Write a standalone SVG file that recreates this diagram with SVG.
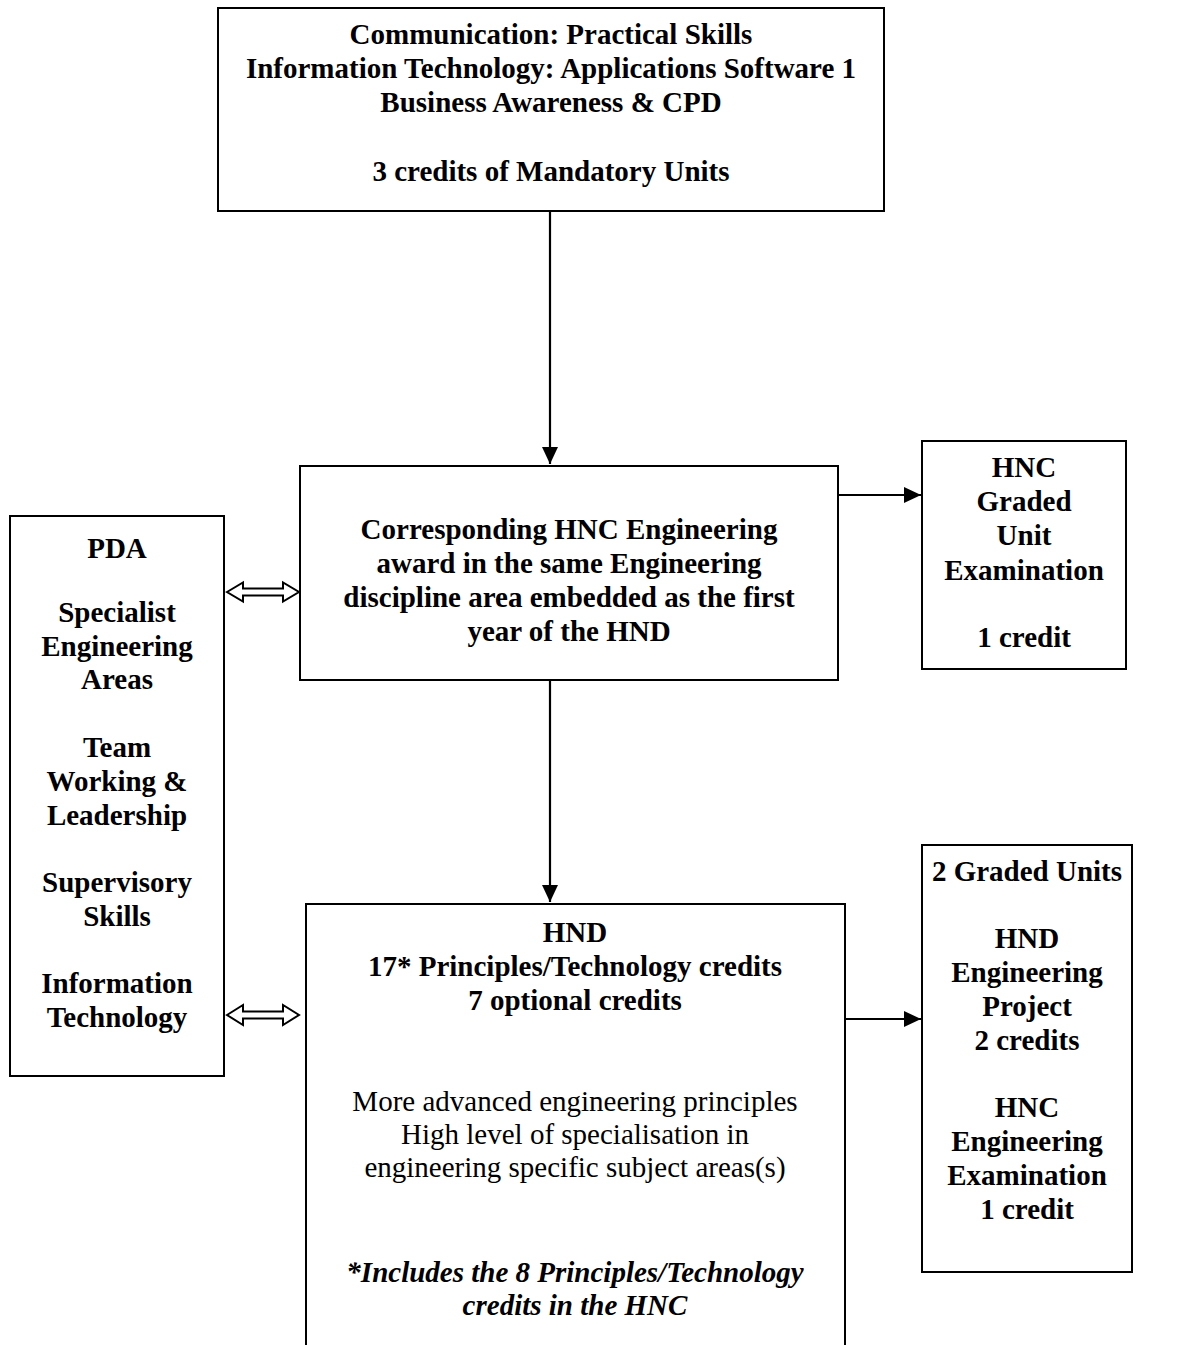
<svg xmlns="http://www.w3.org/2000/svg" width="1195" height="1345" viewBox="0 0 1195 1345">
<defs>
<style>
.box{fill:#fff;stroke:#000;stroke-width:2}
.t{font-family:"Liberation Serif","Times New Roman",serif;font-size:29px;fill:#000;text-anchor:middle}
.b{font-weight:bold}
.i{font-style:italic;font-weight:bold}
.c{stroke:#000;stroke-width:2.2;fill:none}
.dbl{fill:#fff;stroke:#000;stroke-width:2;stroke-linejoin:miter}
</style>
<marker id="ah" markerUnits="userSpaceOnUse" markerWidth="17" markerHeight="16" refX="17" refY="8" orient="auto">
<path d="M0,0 L17,8 L0,16 Z" fill="#000"/>
</marker>
</defs>
<rect width="1195" height="1345" fill="#fff"/>
<g id="connectors">
<line class="c" x1="550" y1="211" x2="550" y2="464" marker-end="url(#ah)"/>
<line class="c" x1="550" y1="680" x2="550" y2="902" marker-end="url(#ah)"/>
<line class="c" x1="838" y1="495" x2="921" y2="495" marker-end="url(#ah)"/>
<line class="c" x1="845" y1="1019" x2="921" y2="1019" marker-end="url(#ah)"/>
<path class="dbl" d="M227,592 L243,582.5 L243,588.5 L283,588.5 L283,582.5 L299,592 L283,601.5 L283,595.5 L243,595.5 L243,601.5 Z"/>
<path class="dbl" d="M227,1015 L243,1005 L243,1011.5 L283,1011.5 L283,1005 L299,1015 L283,1025 L283,1018.5 L243,1018.5 L243,1025 Z"/>
</g>
<g id="mandatory">
<rect class="box" x="218" y="8" width="666" height="203"/>
<text class="t b" x="551" y="44">Communication: Practical Skills</text>
<text class="t b" x="551" y="78">Information Technology: Applications Software 1</text>
<text class="t b" x="551" y="112">Business Awareness &amp; CPD</text>
<text class="t b" x="551" y="181">3 credits of Mandatory Units</text>
</g>
<g id="hnc-award">
<rect class="box" x="300" y="466" width="538" height="214"/>
<text class="t b" x="569" y="539">Corresponding HNC Engineering</text>
<text class="t b" x="569" y="573">award in the same Engineering</text>
<text class="t b" x="569" y="607">discipline area embedded as the first</text>
<text class="t b" x="569" y="641">year of the HND</text>
</g>
<g id="hnc-graded">
<rect class="box" x="922" y="441" width="204" height="228"/>
<text class="t b" x="1024" y="477">HNC</text>
<text class="t b" x="1024" y="511">Graded</text>
<text class="t b" x="1024" y="545">Unit</text>
<text class="t b" x="1024" y="580">Examination</text>
<text class="t b" x="1024" y="647">1 credit</text>
</g>
<g id="pda">
<rect class="box" x="10" y="516" width="214" height="560"/>
<text class="t b" x="117" y="558">PDA</text>
<text class="t b" x="117" y="622">Specialist</text>
<text class="t b" x="117" y="656">Engineering</text>
<text class="t b" x="117" y="689">Areas</text>
<text class="t b" x="117" y="757">Team</text>
<text class="t b" x="117" y="791">Working &amp;</text>
<text class="t b" x="117" y="825">Leadership</text>
<text class="t b" x="117" y="892">Supervisory</text>
<text class="t b" x="117" y="926">Skills</text>
<text class="t b" x="117" y="993">Information</text>
<text class="t b" x="117" y="1027">Technology</text>
</g>
<g id="hnd">
<rect class="box" x="306" y="904" width="539" height="460"/>
<text class="t b" x="575" y="942">HND</text>
<text class="t b" x="575" y="976">17* Principles/Technology credits</text>
<text class="t b" x="575" y="1010">7 optional credits</text>
<text class="t" x="575" y="1111">More advanced engineering principles</text>
<text class="t" x="575" y="1144">High level of specialisation in</text>
<text class="t" x="575" y="1177">engineering specific subject areas(s)</text>
<text class="t i" x="575" y="1282">*Includes the 8 Principles/Technology</text>
<text class="t i" x="575" y="1315">credits in the HNC</text>
</g>
<g id="graded-units">
<rect class="box" x="922" y="845" width="210" height="427"/>
<text class="t b" x="1027" y="881">2 Graded Units</text>
<text class="t b" x="1027" y="948">HND</text>
<text class="t b" x="1027" y="982">Engineering</text>
<text class="t b" x="1027" y="1016">Project</text>
<text class="t b" x="1027" y="1050">2 credits</text>
<text class="t b" x="1027" y="1117">HNC</text>
<text class="t b" x="1027" y="1151">Engineering</text>
<text class="t b" x="1027" y="1185">Examination</text>
<text class="t b" x="1027" y="1219">1 credit</text>
</g>
</svg>
